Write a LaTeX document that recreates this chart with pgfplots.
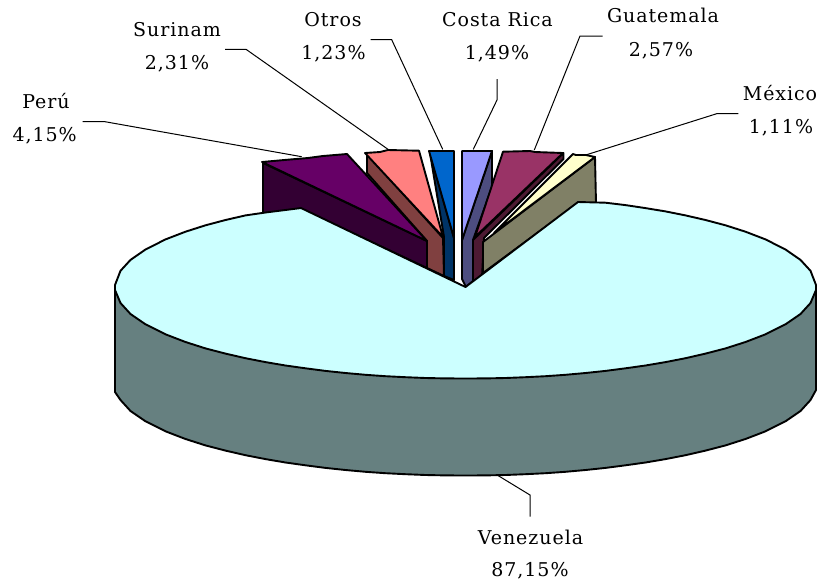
\documentclass[border=0pt]{standalone}
\usepackage{pgfplots}
\pgfplotsset{compat=1.18}
\usepackage{fontspec}
\setmainfont[LetterSpace=5]{DejaVu Serif}
\definecolor{venT}{HTML}{CCFFFF}\definecolor{venS}{HTML}{668080}
\definecolor{perT}{HTML}{660066}\definecolor{perS}{HTML}{330033}
\definecolor{surT}{HTML}{FF8080}\definecolor{surS}{HTML}{804040}
\definecolor{otrT}{HTML}{0066CC}\definecolor{otrS}{HTML}{003366}
\definecolor{cosT}{HTML}{9999FF}\definecolor{cosS}{HTML}{4D4D80}
\definecolor{guaT}{HTML}{993366}\definecolor{guaS}{HTML}{4D1A33}
\definecolor{mexT}{HTML}{FFFFCC}\definecolor{mexS}{HTML}{808066}
\tikzset{
  slice/.style={draw=black, line width=1.9pt, line join=round, fill=#1},
  leader/.style={draw=black, line width=1pt},
  lab/.style={anchor=base, inner sep=0pt, font=\fontsize{19}{22}\selectfont},
}
\begin{document}
\begin{tikzpicture}
\useasboundingbox (0,0) rectangle (820pt,582pt);
\begin{axis}[
  scale only axis, width=820pt, height=582pt,
  xmin=0, xmax=820, ymin=0, ymax=582, y dir=reverse,
  hide axis, clip=false,
]
% back slices, sides then tops
\addplot[slice=otrS] coordinates {(430,153) (454,238) (454,280) (444,276) (444,237)} --cycle;
\addplot[slice=otrT] coordinates {(429,151) (454,151) (454,238)} --cycle;
\addplot[slice=cosS] coordinates {(492,151) (492,187) (473,240) (473,281) (466,287) (462,279) (462,240)} --cycle;
\addplot[slice=cosT] coordinates {(462,151) (492,151) (462,240)} --cycle;
\addplot[slice=surS] coordinates {(367,154) (443,238) (444,276) (427,268) (427,241) (367,173)} --cycle;
\addplot[slice=surT] coordinates {(365,153) (380,152) (388,150) (419,150.7) (443,237)} --cycle;
\addplot[slice=guaS] coordinates {(563.5,153) (563.5,159) (484,238) (482,277) (473,281) (473,240)} --cycle;
\addplot[slice=guaT] coordinates {(503,151.7) (530,151) (535,152) (563,153) (475,237)} --cycle;
\addplot[slice=perS] coordinates {(263,163) (427,241) (427,268) (301,209) (263,214)} --cycle;
\addplot[slice=perT] coordinates {(262,162) (290,159.5) (308,158) (323,156) (347,154) (427,241)} --cycle;
\addplot[slice=mexS] coordinates {(595,157) (596,203) (578,203) (483,273) (483,242)} --cycle;
\addplot[slice=mexT] coordinates {(573,154) (576,155) (586,155) (595,157) (494,233)} --cycle;
% Venezuela wall
\addplot[slice=venS] coordinates {
  (115,290) (115,392) (120.5,400) (130.5,411) (145.5,421.3) (165.5,431.3) (185.5,439)
  (205.5,445.4) (225.5,450.6) (245.5,455.2) (265.5,459.1) (285.5,462.5) (305.5,465.3)
  (325.5,467.9) (345.5,470) (365.5,471.8) (385.5,473.2) (405.5,474.2) (425.5,475)
  (445.5,475.4) (465.5,475.5) (485.5,475.4) (505.5,475) (525.5,474.2) (545.5,473.2)
  (565.5,471.8) (585.5,470) (605.5,467.9) (625.5,465.3) (645.5,462.5) (665.5,459.1)
  (685.5,455.2) (705.5,450.6) (725.5,445.4) (745.5,439) (765.5,431.3) (785.5,421.3)
  (800.5,411) (810.5,400) (816,390) (816,290)} --cycle;
% Venezuela top
\addplot[slice=venT] coordinates {
  (465.5,287) (578,202) (605.5,202.7) (625.5,205.1) (645.5,208.1) (665.5,211.4)
  (685.5,215.4) (705.5,220) (725.5,225.3) (745.5,231.7) (765.5,239.4) (785.5,249.5)
  (800.5,259.9) (810.5,270.8) (816,285) (816,290)
  (810.5,303) (800.5,314) (785.5,324.3) (765.5,334.3) (745.5,342) (725.5,348.4)
  (705.5,353.6) (685.5,358.2) (665.5,362.1) (645.5,365.5) (625.5,368.3) (605.5,370.9)
  (585.5,373) (565.5,374.8) (545.5,376.2) (525.5,377.2) (505.5,378) (485.5,378.4)
  (465.5,378.5) (445.5,378.4) (425.5,378) (405.5,377.2) (385.5,376.2) (365.5,374.8)
  (345.5,373) (325.5,370.9) (305.5,368.3) (285.5,365.5) (265.5,362.1) (245.5,358.2)
  (225.5,353.6) (205.5,348.4) (185.5,342) (165.5,334.3) (145.5,324.3) (130.5,314)
  (120.5,303) (115,290) (115,285)
  (120.5,270.8) (130.5,259.9) (145.5,249.5) (165.5,239.4) (185.5,231.7) (205.5,225.3)
  (225.5,220) (245.5,215.4) (265.5,212.5) (285.5,210) (301,208)} --cycle;
% leader lines
\addplot[leader] coordinates {(82.7,121.7) (105,121.7) (301.7,156.7)};
\addplot[leader] coordinates {(225,49.3) (246,49.3) (389,150)};
\addplot[leader] coordinates {(370.7,39.7) (391.7,39.7) (442.7,149.3)};
\addplot[leader] coordinates {(497,79) (497,100) (473.3,149.3)};
\addplot[leader] coordinates {(602.7,36) (580,36) (534.3,150)};
\addplot[leader] coordinates {(738.3,113.7) (716.7,113.7) (585.7,155)};
\addplot[leader] coordinates {(498.3,475.7) (530,495) (530,516.7)};
% labels
\node[lab] at (axis cs:46,108) {Perú};
\node[lab] at (axis cs:44.7,141) {4,15\%};
\node[lab] at (axis cs:177,36.7) {Surinam};
\node[lab] at (axis cs:177,69) {2,31\%};
\node[lab] at (axis cs:333,26.7) {Otros};
\node[lab] at (axis cs:333.5,59) {1,23\%};
\node[lab] at (axis cs:497.5,26) {Costa Rica};
\node[lab] at (axis cs:497,59) {1,49\%};
\node[lab] at (axis cs:663,22.7) {Guatemala};
\node[lab] at (axis cs:661,56.7) {2,57\%};
\node[lab] at (axis cs:780,100) {México};
\node[lab] at (axis cs:781,133) {1,11\%};
\node[lab] at (axis cs:530.5,544) {Venezuela};
\node[lab] at (axis cs:530,576.7) {87,15\%};
\end{axis}
\end{tikzpicture}
\end{document}
